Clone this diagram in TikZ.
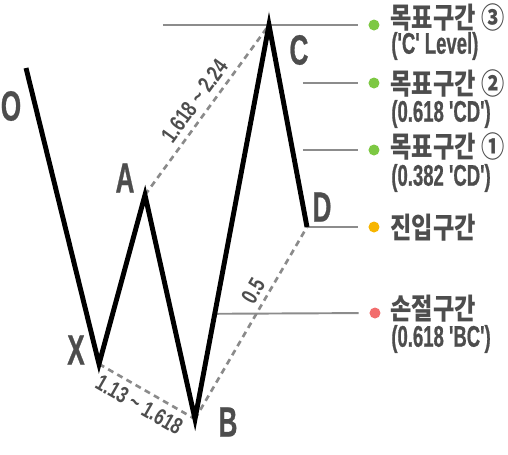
\documentclass[tikz,border=0pt]{standalone}
\usepackage{fontspec}
\usepackage{graphicx}
\usetikzlibrary{positioning, calc}

\newfontfamily\krfont{Noto Sans CJK KR Black}
\newfontfamily\narrowfont{Liberation Sans}[FakeStretch=0.62, BoldFeatures={FakeBold=0.6}]
\newfontfamily\ratiofont{Liberation Sans}[FakeStretch=0.75]
\newcommand{\zonetext}[1]{\scalebox{0.8}[1]{#1}}

\definecolor{inkgray}{HTML}{4D4D4D}
\definecolor{dashgray}{HTML}{8A8A8A}
\definecolor{levelgray}{HTML}{8C8C8C}
\definecolor{targetgreen}{HTML}{7DC843}
\definecolor{entryorange}{HTML}{F7B500}
\definecolor{stopred}{HTML}{F26D6D}

\begin{document}
\begin{tikzpicture}[%
    x=0.2mm, y=-0.2mm,  % one unit = one pixel of the sketch
    wave/.style={line width=2.8pt, line join=miter, miter limit=25},
    ratio/.style={draw=dashgray, line width=1.5pt, dash pattern=on 3.4pt off 2.6pt},
    level/.style={draw=levelgray, line width=1.1pt, shorten >=2.1mm},
    point/.style={text=inkgray, inner sep=0pt, font=\narrowfont\bfseries\fontsize{24}{24}\selectfont},
    ratiotext/.style={text=inkgray, inner sep=0pt, font=\ratiofont\bfseries\fontsize{13}{13}\selectfont},
    dot/.style={circle, fill=#1, inner sep=0pt, minimum size=2.2mm},
    zone/.style={anchor=west, text=inkgray, inner sep=0pt, font=\krfont\fontsize{16.5}{16.5}\selectfont},
    note/.style={anchor=west, text=inkgray, inner sep=0pt, font=\narrowfont\bfseries\fontsize{17}{17}\selectfont}
]
    \useasboundingbox (0,0) rectangle (508,455);

    % ==========================================
    % 1. Swing points
    % ==========================================
    \coordinate (O) at (26,68);
    \coordinate (X) at (99,364);
    \coordinate (A) at (145,195);
    \coordinate (B) at (195,419);
    \coordinate (C) at (269,25);
    \coordinate (D) at (307,227);

    \node[point] (lO) at (11,106) {O};
    \node[point] (lX) at (76,350) {X};
    \node[point] (lA) at (125,178) {A};
    \node[point] (lB) at (228,422) {B};
    \node[point] (lC) at (299,50) {C};
    \node[point] (lD) at (322,207) {D};

    % ==========================================
    % 2. Zones (dots + texts)
    % ==========================================
    \node[dot=targetgreen] (dot3) at (374,25) {};
    \node[dot=targetgreen] (dot2) at (374,83) {};
    \node[dot=targetgreen] (dot1) at (374,150) {};
    \node[dot=entryorange] (dotE) at (374,227) {};
    \node[dot=stopred]     (dotS) at (375,313) {};

    \node[zone] (z3) at (390,17) {\zonetext{목표구간 ③}};
    \node[note] (n3) at (391,46) {('C' Level)};
    \node[zone] (z2) at (390,83) {\zonetext{목표구간 ②}};
    \node[note] (n2) at (391,114) {(0.618 'CD')};
    \node[zone] (z1) at (390,146) {\zonetext{목표구간 ①}};
    \node[note] (n1) at (391,178) {(0.382 'CD')};
    \node[zone] (zE) at (390,228) {\zonetext{진입구간}};
    \node[zone] (zS) at (390,309) {\zonetext{손절구간}};
    \node[note] (nS) at (391,339) {(0.618 'BC')};

    % ==========================================
    % 3. Level lines
    % ==========================================
    \coordinate (l3) at (163,25);
    \coordinate (l2) at (303,83);
    \coordinate (l1) at (303,150);
    \coordinate (lS) at ($(B)!0.267!(C)$);

    \draw[level] (l3) -- (dot3);
    \draw[level] (l2) -- (dot2);
    \draw[level] (l1) -- (dot1);
    \draw[level] (D) -- (dotE);
    \draw[level] (lS) -- (dotS);

    % ==========================================
    % 4. Ratio legs (dashed) and the pattern
    % ==========================================
    \draw[ratio] (A) -- (C)
        node[ratiotext, midway, sloped, above=1.2mm] {1.618 \textasciitilde\ 2.24};
    \draw[ratio] (X) -- (B)
        node[ratiotext, midway, sloped, below=1.2mm] {1.13 \textasciitilde\ 1.618};
    \draw[ratio] (B) -- (D)
        node[ratiotext, pos=0.63, sloped, above=1mm] {0.5};

    \draw[wave] (O) -- (X) -- (A) -- (B) -- (C) -- (D);

\end{tikzpicture}
\end{document}
